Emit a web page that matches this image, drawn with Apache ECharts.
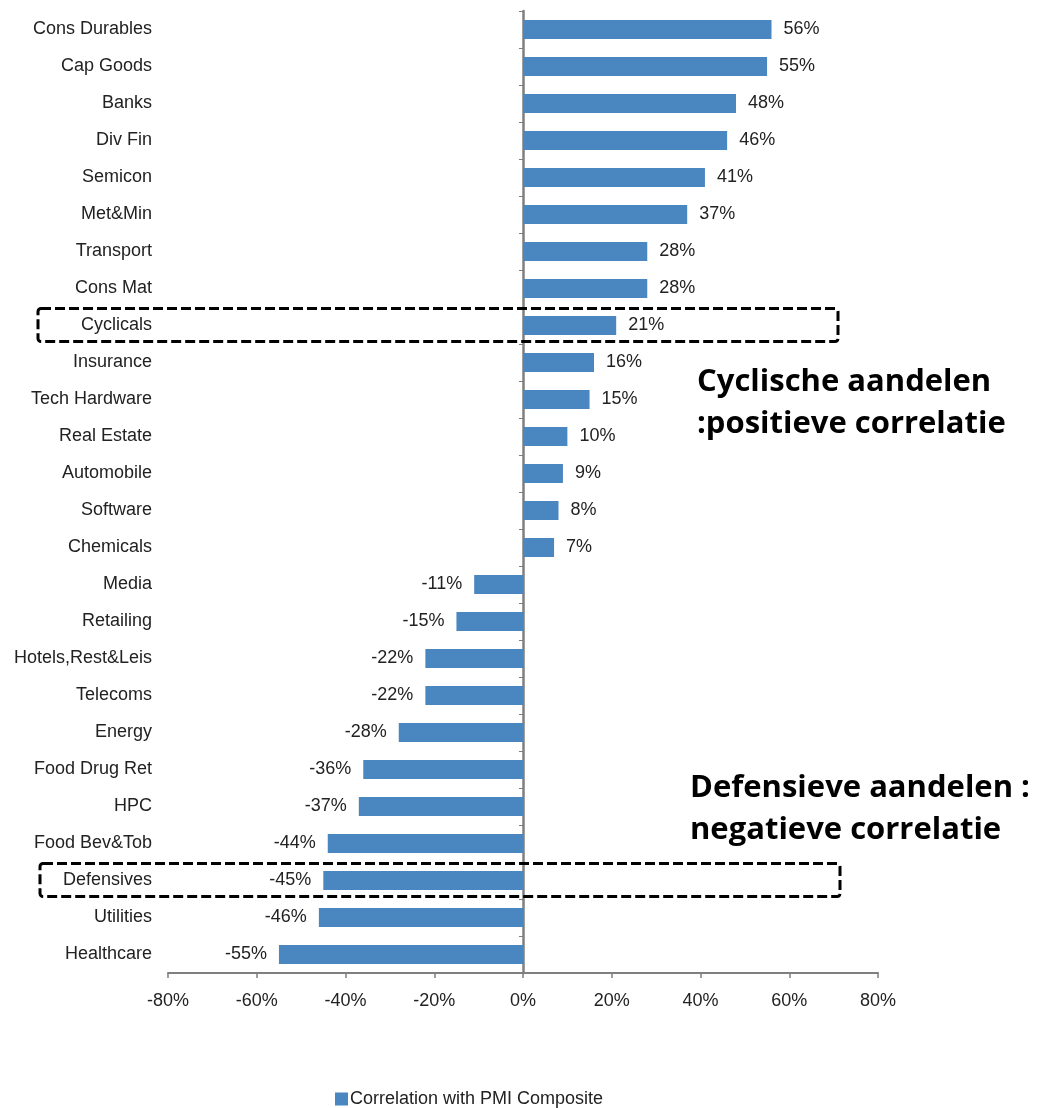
<!DOCTYPE html>
<html>
<head>
<meta charset="utf-8">
<script src="https://cdn.jsdelivr.net/npm/echarts@6/dist/echarts.min.js"></script>
<style>
  html, body { margin: 0; padding: 0; background: #fff; }
  #chart { width: 1045px; height: 1108px; }
</style>
</head>
<body>
<div id="chart"></div>
<script>
// sectors, top to bottom
const categories = [
  'Cons Durables', 'Cap Goods', 'Banks', 'Div Fin', 'Semicon', 'Met&Min',
  'Transport', 'Cons Mat', 'Cyclicals', 'Insurance', 'Tech Hardware',
  'Real Estate', 'Automobile', 'Software', 'Chemicals', 'Media', 'Retailing',
  'Hotels,Rest&Leis', 'Telecoms', 'Energy', 'Food Drug Ret', 'HPC',
  'Food Bev&Tob', 'Defensives', 'Utilities', 'Healthcare'
];
const correlation = [
  56, 55, 48, 46, 41, 37, 28, 28, 21, 16, 15, 10, 9, 8, 7,
  -11, -15, -22, -22, -28, -36, -37, -44, -45, -46, -55
];
const xTicks = { min: -80, max: 80, interval: 20 };
const seriesName = 'Correlation with PMI Composite';
const boxedRows = ['Cyclicals', 'Defensives'];

const labelFont = '"Liberation Sans", Arial, sans-serif';
const noteFont = '"Open Sans", "Noto Sans", sans-serif';
const axisGrey = '#7f7f7f';
const barColor = '#4a86c0';

const chart = echarts.init(document.getElementById('chart'));

const option = {
  animation: false,
  grid: { left: 168, right: 167, top: 11, bottom: 135 },
  legend: {
    left: 330,
    top: 1085,
    itemWidth: 13,
    itemHeight: 13,
    itemGap: 4,
    icon: 'rect',
    textStyle: { fontFamily: labelFont, fontSize: 18, color: '#222', padding: [0, 0, 0, -3] },
    data: [seriesName]
  },
  xAxis: {
    type: 'value',
    min: xTicks.min,
    max: xTicks.max,
    interval: xTicks.interval,
    axisLine: { show: true, onZero: false, lineStyle: { color: axisGrey, width: 2 } },
    axisTick: { show: true, length: 5, lineStyle: { color: axisGrey, width: 1.5 } },
    splitLine: { show: false },
    axisLabel: {
      margin: 19,
      formatter: '{value}%',
      fontFamily: labelFont,
      fontSize: 18,
      color: '#222'
    }
  },
  yAxis: [
    {
      type: 'category',
      inverse: true,
      data: categories,
      position: 'left',
      axisLine: { show: false, onZero: false },
      axisTick: { show: false },
      axisLabel: { margin: 16, fontFamily: labelFont, fontSize: 18, color: '#222' }
    },
    {
      type: 'category',
      inverse: true,
      data: categories,
      position: 'left',
      axisLine: { show: true, onZero: true, lineStyle: { color: axisGrey, width: 2.5 } },
      axisTick: { show: true, length: 4, lineStyle: { color: axisGrey, width: 1 } },
      axisLabel: { show: false }
    }
  ],
  series: [
    {
      name: seriesName,
      type: 'bar',
      yAxisIndex: 0,
      barWidth: 19,
      itemStyle: { color: barColor },
      data: correlation.map(v => ({
        value: v,
        label: { position: v >= 0 ? 'right' : 'left' }
      })),
      label: {
        show: true,
        distance: 12,
        formatter: p => p.value + '%',
        fontFamily: labelFont,
        fontSize: 18,
        color: '#222'
      }
    }
  ]
};

chart.setOption(option);

// dashed boxes round the aggregate rows + the annotations
const boxes = boxedRows.map((name, i) => {
  const y = chart.convertToPixel({ yAxisIndex: 0 }, name);
  return {
    type: 'rect',
    shape: { x: 38 + i * 2, y: y - 17, width: 800, height: 33, r: 3 },
    style: { fill: 'none', stroke: '#000', lineWidth: 3, lineDash: [10, 4] },
    z: 10
  };
});

const notes = [
  { text: 'Cyclische aandelen\n:positieve correlatie', x: 697, y: 361 },
  { text: 'Defensieve aandelen :\nnegatieve correlatie', x: 690, y: 767 }
].map(n => ({
  type: 'text',
  x: n.x,
  y: n.y,
  style: {
    text: n.text,
    fontFamily: noteFont,
    fontWeight: 'bold',
    fontSize: 31,
    lineHeight: 42,
    fill: '#000'
  },
  z: 10
}));

chart.setOption({ graphic: boxes.concat(notes) });
</script>
</body>
</html>
